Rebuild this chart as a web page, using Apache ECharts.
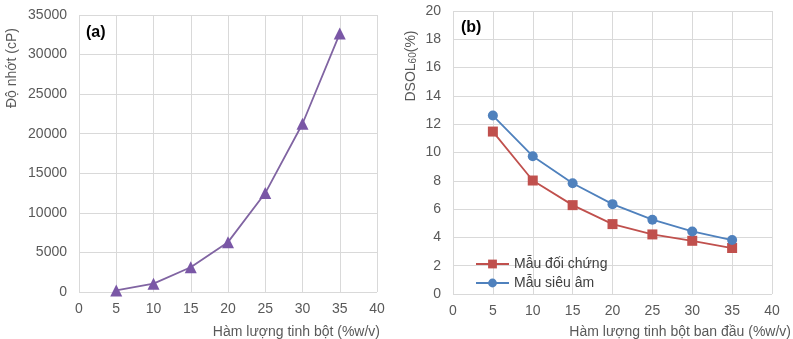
<!DOCTYPE html>
<html>
<head>
<meta charset="utf-8">
<script src="https://cdn.jsdelivr.net/npm/echarts@6/dist/echarts.min.js"></script>
<style>
  html, body { margin: 0; padding: 0; background: #fff; }
  #chart { width: 793px; height: 339px; }
</style>
</head>
<body>
<div id="chart"></div>
<script>
// hàm lượng tinh bột (%w/v)
const starch = [5, 10, 15, 20, 25, 30, 35];
// (a) độ nhớt (cP)
const viscosity = [200, 1050, 3130, 6300, 12500, 21260, 32650];
// (b) DSOL60 (%)
const control = [11.48, 8.02, 6.28, 4.94, 4.21, 3.76, 3.25];
const ultrasound = [12.61, 9.74, 7.83, 6.35, 5.25, 4.42, 3.81];

const labelColor = '#595959';
const gridColor = '#d9d9d9';
const font = 'Liberation Sans, Arial, sans-serif';

const pairs = (xs, ys) => xs.map((x, i) => [x, ys[i]]);

const xAxisBase = {
  type: 'value',
  min: 0,
  max: 40,
  interval: 5,
  axisLine: { show: false },
  axisTick: { show: false },
  axisLabel: { color: labelColor, fontSize: 14, fontFamily: font, margin: 10 },
  splitLine: { show: true, lineStyle: { color: gridColor, width: 1 } },
};

const yAxisBase = {
  type: 'value',
  min: 0,
  axisLine: { show: false },
  axisTick: { show: false },
  axisLabel: { color: labelColor, fontSize: 14, fontFamily: font, margin: 12, formatter: (v) => String(v) },
  splitLine: { show: true, lineStyle: { color: gridColor, width: 1 } },
};

const myChart = echarts.init(document.getElementById('chart'));
const option = {
  animation: false,
  grid: [
    { left: 79, right: 416, top: 15, bottom: 47 },
    { left: 453, right: 21, top: 11, bottom: 45 },
  ],
  xAxis: [
    { ...xAxisBase, gridIndex: 0 },
    { ...xAxisBase, gridIndex: 1 },
  ],
  yAxis: [
    { ...yAxisBase, gridIndex: 0, max: 35000, interval: 5000 },
    { ...yAxisBase, gridIndex: 1, max: 20, interval: 2 },
  ],
  legend: {
    data: ['Mẫu đối chứng', 'Mẫu siêu âm'],
    orient: 'vertical',
    left: 470,
    top: 252,
    itemWidth: 33,
    itemHeight: 11,
    itemGap: 5,
    textStyle: { color: '#404040', fontSize: 14, fontFamily: font },
  },
  series: [
    {
      name: 'Độ nhớt',
      type: 'line',
      xAxisIndex: 0,
      yAxisIndex: 0,
      data: pairs(starch, viscosity),
      symbol: 'triangle',
      symbolSize: 12,
      lineStyle: { color: '#8064a2', width: 1.8 },
      itemStyle: { color: '#7a57a6' },
    },
    {
      name: 'Mẫu đối chứng',
      type: 'line',
      xAxisIndex: 1,
      yAxisIndex: 1,
      data: pairs(starch, control),
      symbol: 'rect',
      symbolSize: 10,
      lineStyle: { color: '#c0504d', width: 1.8 },
      itemStyle: { color: '#c0504d' },
    },
    {
      name: 'Mẫu siêu âm',
      type: 'line',
      xAxisIndex: 1,
      yAxisIndex: 1,
      data: pairs(starch, ultrasound),
      symbol: 'circle',
      symbolSize: 10,
      lineStyle: { color: '#4f81bd', width: 1.8 },
      itemStyle: { color: '#4f81bd' },
    },
  ],
  graphic: [
    {
      type: 'text', left: 86, top: 25,
      style: { text: '(a)', fontSize: 16, fontWeight: 'bold', fontFamily: font, fill: '#000' },
    },
    {
      type: 'text', left: 461, top: 20,
      style: { text: '(b)', fontSize: 16, fontWeight: 'bold', fontFamily: font, fill: '#000' },
    },
    {
      type: 'text', x: 12, y: 68, rotation: Math.PI / 2,
      style: {
        text: 'Độ nhớt (cP)', fontSize: 14, fontFamily: font, fill: labelColor,
        align: 'center', verticalAlign: 'middle',
      },
    },
    {
      type: 'text', x: 411, y: 66, rotation: Math.PI / 2,
      style: {
        text: 'DSOL{sub|60}(%)', fontSize: 14, fontFamily: font, fill: labelColor,
        align: 'center', verticalAlign: 'middle',
        rich: { sub: { fontSize: 10, fontFamily: font, fill: labelColor, verticalAlign: 'bottom', padding: [5, 0, 0, 0] } },
      },
    },
    {
      type: 'text', x: 380, y: 332,
      style: {
        text: 'Hàm lượng tinh bột (%w/v)', fontSize: 14, fontFamily: font, fill: labelColor,
        align: 'right', verticalAlign: 'middle',
      },
    },
    {
      type: 'text', x: 791, y: 332,
      style: {
        text: 'Hàm lượng tinh bột ban đầu (%w/v)', fontSize: 14, fontFamily: font, fill: labelColor,
        align: 'right', verticalAlign: 'middle',
      },
    },
  ],
};

option && myChart.setOption(option);
</script>
</body>
</html>
